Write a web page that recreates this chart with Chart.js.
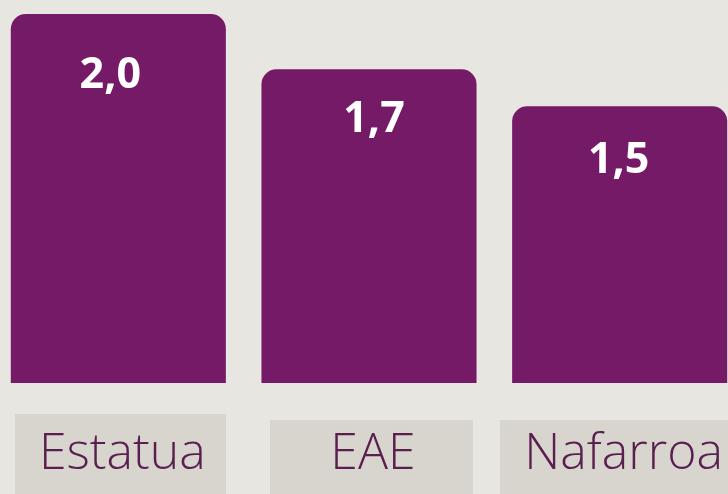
<!DOCTYPE html>
<html>
<head>
<meta charset="utf-8">
<script src="https://cdn.jsdelivr.net/npm/chart.js@4.4.1/dist/chart.umd.min.js"></script>
<style>
  html, body { margin: 0; padding: 0; background: #e8e6e0; overflow: hidden; width: 728px; height: 494px; }
  #wrap { position: absolute; left: -7px; top: 0; width: 752px; height: 494px; }
</style>
</head>
<body>
<div id="wrap"><canvas id="c"></canvas></div>
<script>
const categories = ["Estatua", "EAE", "Nafarroa"];
const values = [2.0, 1.7, 1.5];
const valueLabels = ["2,0", "1,7", "1,5"];

const BG = '#e8e6e0', BAR = '#751a66', BOX = '#d8d5ce', TXT = '#5a1f4f';
// small visual nudges of the value labels (style only)
const labelNudgeX = [-8, 5, -1];
const labelNudgeY = [62, 50, 54];

const boxPlugin = {
  id: 'boxes',
  beforeDraw(chart) {
    const ctx = chart.ctx, xs = chart.scales.x;
    ctx.save();
    ctx.font = '300 50px "Open Sans"';
    categories.forEach((c, i) => {
      const cx = xs.getPixelForTick(i) + 2;
      const w = Math.max(ctx.measureText(c).width + 44, 203);
      const top = i === 0 ? 414 : 420;
      ctx.fillStyle = BOX;
      ctx.fillRect(Math.round(cx - w / 2), top, Math.round(w), 494 - top);
    });
    ctx.restore();
  },
  afterDatasetsDraw(chart) {
    const ctx = chart.ctx, meta = chart.getDatasetMeta(0);
    ctx.save();
    ctx.fillStyle = '#ffffff';
    ctx.font = 'bold 43px "Open Sans"';
    ctx.textAlign = 'center';
    ctx.textBaseline = 'middle';
    meta.data.forEach((bar, i) => {
      ctx.fillText(valueLabels[i], bar.x + labelNudgeX[i], bar.y + labelNudgeY[i]);
    });
    ctx.restore();
  }
};

new Chart(document.getElementById('c'), {
  type: 'bar',
  data: {
    labels: categories,
    datasets: [{
      data: values,
      backgroundColor: BAR,
      borderRadius: { topLeft: 15, topRight: 15, bottomLeft: 0, bottomRight: 0 },
      borderSkipped: false,
      barPercentage: 0.858,
      categoryPercentage: 1.0
    }]
  },
  options: {
    responsive: true,
    maintainAspectRatio: false,
    animation: false,
    layout: { padding: { top: 14, left: 0, right: 0, bottom: 0 } },
    plugins: { legend: { display: false }, tooltip: { enabled: false } },
    scales: {
      y: { display: false, min: 0, max: 2.0 },
      x: {
        offset: true,
        grid: { display: false, drawTicks: false },
        border: { display: false },
        ticks: {
          color: TXT,
          font: { family: 'Open Sans', size: 50, weight: '300' },
          padding: 42,
          labelOffset: 4,
          maxRotation: 0,
          autoSkip: false
        },
        afterFit(scale) { scale.height = 111; scale.paddingLeft = 0; scale.paddingRight = 0; }
      }
    }
  },
  plugins: [boxPlugin]
});
</script>
</body>
</html>
